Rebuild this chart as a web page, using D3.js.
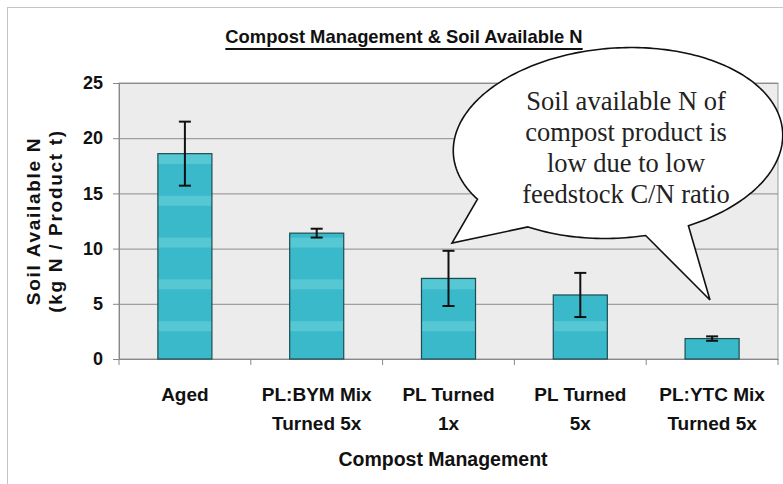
<!DOCTYPE html>
<html>
<head>
<meta charset="utf-8">
<script src="https://cdn.jsdelivr.net/npm/d3@7"></script>
<style>
  html, body { margin: 0; padding: 0; background: #fff; }
  svg { display: block; font-family: Arial, "Liberation Sans", sans-serif; }
</style>
</head>
<body>
<svg id="chart" width="783" height="484"></svg>
<script>
// ---- data ----
const categories = ["Aged", "PL:BYM Mix\nTurned 5x", "PL Turned\n1x", "PL Turned\n5x", "PL:YTC Mix\nTurned 5x"];
const values = [18.6, 11.4, 7.3, 5.8, 1.85];
const errors = [2.9, 0.4, 2.5, 2.0, 0.2];
const yTicks = [0, 5, 10, 15, 20, 25];
const title = "Compost Management & Soil Available N";
const xTitle = "Compost Management";
const yTitleLines = ["Soil Available N", "(kg N / Product t)"];
const calloutLines = ["Soil available N of", "compost product is", "low due to low", "feedstock C/N ratio"];

// ---- layout ----
const plot = { left: 119, right: 778, top: 83, bottom: 359 };
const svg = d3.select("#chart");
const SANS = "Arial, 'Liberation Sans', sans-serif";

const x = d3.scaleBand().domain(categories)
  .range([plot.left, plot.right]).paddingInner(0.59).paddingOuter(0.295);
const y = d3.scaleLinear().domain([0, 25]).range([plot.bottom, plot.top]);

// outer frame
svg.append("rect").attr("x", 7.5).attr("y", 7.5).attr("width", 820).attr("height", 520)
  .attr("fill", "#fff").attr("stroke", "#c4c4c4").attr("stroke-width", 1);

// bar stripe pattern
const defs = svg.append("defs");
const pat = defs.append("pattern").attr("id", "stripes").attr("patternUnits", "userSpaceOnUse")
  .attr("x", 0).attr("y", 154).attr("width", 10).attr("height", 41.8);
pat.append("rect").attr("width", 10).attr("height", 41.8).attr("fill", "#39b9ca");
pat.append("rect").attr("y", 0).attr("width", 10).attr("height", 10).attr("fill", "#55c8d3");

// plot background
svg.append("rect").attr("x", plot.left).attr("y", plot.top)
  .attr("width", plot.right - plot.left).attr("height", plot.bottom - plot.top)
  .attr("fill", "#ececec").attr("stroke", "#9a9a9a").attr("stroke-width", 1);

// gridlines
svg.append("g").attr("transform", `translate(${plot.left},0)`)
  .call(d3.axisLeft(y).tickValues(yTicks).tickSize(-(plot.right - plot.left)).tickFormat(""))
  .call(g => g.select(".domain").remove())
  .call(g => g.selectAll("line").attr("stroke", "#8c8c8c"));

// y axis
svg.append("g").attr("transform", `translate(${plot.left},0)`)
  .call(d3.axisLeft(y).tickValues(yTicks).tickSize(6).tickPadding(10))
  .call(g => g.select(".domain").attr("stroke", "#888"))
  .call(g => g.selectAll("line").attr("stroke", "#888"))
  .call(g => g.selectAll("text").attr("font-size", 18).attr("font-weight", "bold").attr("fill", "#111")
    .attr("font-family", SANS));

// x axis
const xAxis = svg.append("g").attr("transform", `translate(0,${plot.bottom})`)
  .call(d3.axisBottom(x).tickSize(0).tickFormat(""))
  .call(g => g.select(".domain").attr("stroke", "#888"));
const bounds = d3.range(categories.length + 1).map(i => plot.left + i * x.step());
xAxis.selectAll(".bnd").data(bounds).join("line").attr("class", "bnd")
  .attr("x1", d => d).attr("x2", d => d).attr("y1", 0).attr("y2", 6).attr("stroke", "#888");
xAxis.selectAll(".tick").each(function(d) {
  const t = d3.select(this).append("text").attr("fill", "#111").attr("font-size", 19)
    .attr("font-family", SANS).attr("font-weight", "bold").attr("text-anchor", "middle");
  d.split("\n").forEach((line, i) => {
    t.append("tspan").attr("x", 0).attr("y", 42 + i * 29).text(line);
  });
});

// bars
svg.append("g").selectAll("rect").data(categories).join("rect")
  .attr("x", d => x(d)).attr("width", x.bandwidth())
  .attr("y", (d, i) => y(values[i])).attr("height", (d, i) => y(0) - y(values[i]))
  .attr("fill", "url(#stripes)").attr("stroke", "#1d4d52").attr("stroke-width", 1.2);

// error bars
const eb = svg.append("g").attr("stroke", "#111").attr("stroke-width", 2);
categories.forEach((c, i) => {
  const cx = x(c) + x.bandwidth() / 2;
  const y1 = y(values[i] + errors[i]), y2 = y(values[i] - errors[i]);
  eb.append("line").attr("x1", cx).attr("x2", cx).attr("y1", y1).attr("y2", y2);
  eb.append("line").attr("x1", cx - 6).attr("x2", cx + 6).attr("y1", y1).attr("y2", y1);
  eb.append("line").attr("x1", cx - 6).attr("x2", cx + 6).attr("y1", y2).attr("y2", y2);
});

// title
const tt = svg.append("text").attr("x", 404).attr("y", 43).attr("text-anchor", "middle")
  .attr("font-family", SANS).attr("font-size", 18.4).attr("font-weight", "bold").attr("fill", "#111").text(title);
const tb = tt.node().getBBox();
svg.append("line").attr("x1", tb.x).attr("x2", tb.x + tb.width).attr("y1", 49).attr("y2", 49)
  .attr("stroke", "#111").attr("stroke-width", 2);

// x title
svg.append("text").attr("x", 443).attr("y", 466).attr("text-anchor", "middle")
  .attr("font-family", SANS).attr("font-size", 19.5).attr("font-weight", "bold").attr("fill", "#111").text(xTitle);

// y title
yTitleLines.forEach((line, i) => {
  svg.append("text").attr("transform", `translate(${40 + i * 22},221) rotate(-90)`)
    .attr("text-anchor", "middle").attr("font-family", SANS).attr("font-size", 19).attr("font-weight", "bold")
    .attr("letter-spacing", 1.7).attr("fill", "#111").text(line);
});

// callout bubble
const E = { cx: 618, cy: 143, rx: 165, ry: 95, rot: -4 * Math.PI / 180 };
function ept(t) {
  const c = Math.cos(E.rot), s = Math.sin(E.rot);
  const ex = E.rx * Math.cos(t), ey = E.ry * Math.sin(t);
  return [E.cx + ex * c - ey * s, E.cy + ex * s + ey * c];
}
function etOf(px, py) {
  const dx = px - E.cx, dy = py - E.cy;
  const c = Math.cos(-E.rot), s = Math.sin(-E.rot);
  const ux = dx * c - dy * s, uy = dx * s + dy * c;
  return Math.atan2(uy / E.ry, ux / E.rx);
}
const tA = etOf(530, 225), tB = etOf(647, 240), tC = etOf(698, 237), tD = etOf(483, 197);
const pts = [];
for (let k = 0; k <= 30; k++) pts.push(ept(tA + (tB - tA) * k / 30));
pts.push([710, 300]);
let tEnd = tD; while (tEnd > tC) tEnd -= 2 * Math.PI;
for (let k = 0; k <= 200; k++) pts.push(ept(tC + (tEnd - tC) * k / 200));
pts.push([452, 243]);
svg.append("path").attr("d", d3.line()(pts) + "Z")
  .attr("fill", "#fff").attr("stroke", "#111").attr("stroke-width", 1.6).attr("stroke-linejoin", "miter");

calloutLines.forEach((line, i) => {
  svg.append("text").attr("x", 626).attr("y", 110 + i * 31).attr("text-anchor", "middle")
    .style("font-family", "'Liberation Serif', 'Times New Roman', serif").attr("font-size", 26.5)
    .attr("fill", "#222").text(line);
});
</script>
</body>
</html>
